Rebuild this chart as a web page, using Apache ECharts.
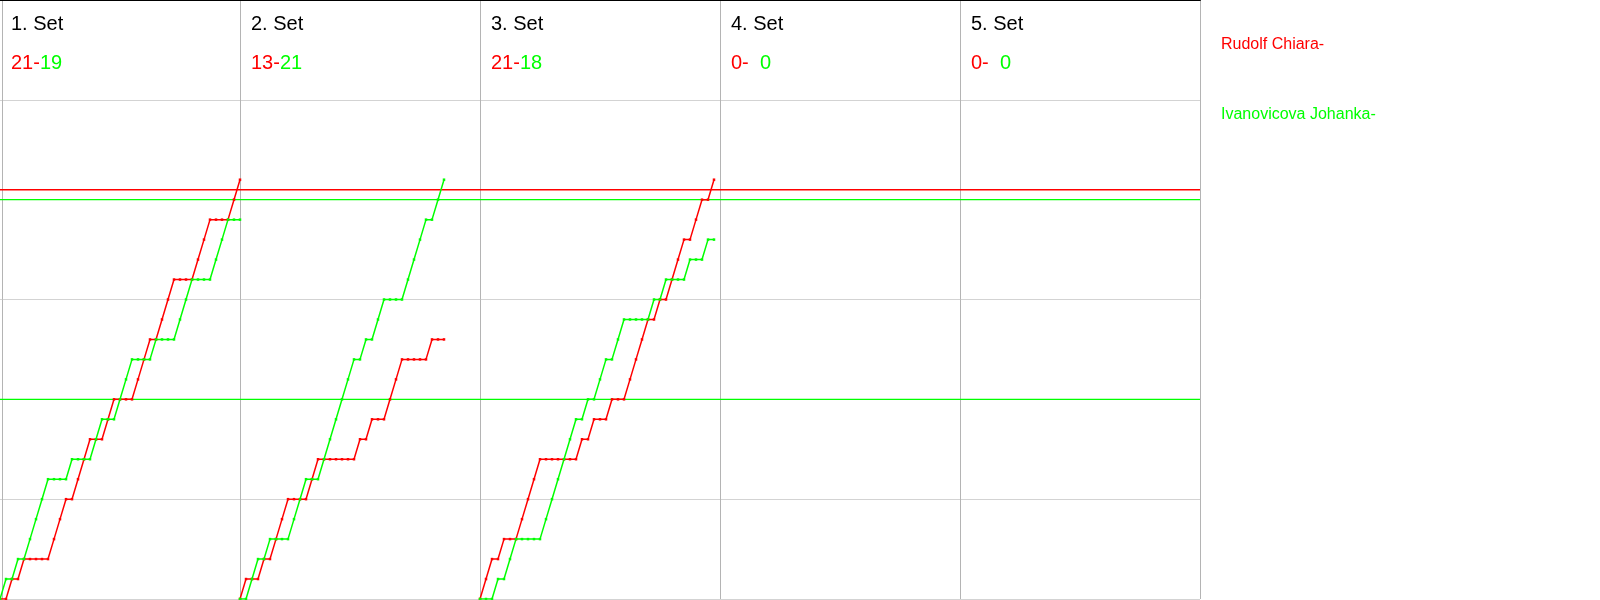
<!DOCTYPE html>
<html><head><meta charset="utf-8">
<script src="https://cdn.jsdelivr.net/npm/echarts@6/dist/echarts.min.js"></script>
<style>html,body{margin:0;padding:0;background:#fff}#c{width:1600px;height:600px}</style>
</head><body><div id="c"></div>
<script>
// ---- data ----
const setLabels = ['1. Set', '2. Set', '3. Set', '4. Set', '5. Set'];
const redScores = [21, 13, 21, 0, 0];
const greenScores = [19, 21, 18, 0, 0];
const playerRed = 'Rudolf Chiara-';
const playerGreen = 'Ivanovicova Johanka-';
const slotPerSet = 40;           // x-axis units reserved for each set (rallies)
const xMax = 200;
const yMax = 30;
// running score after each rally (index = rally number, 0 = start)
const red1   = [0,0,1,1,2,2,2,2,2,3,4,5,5,6,7,8,8,8,9,10,10,10,10,11,12,13,13,14,15,16,16,16,16,17,18,19,19,19,19,20,21];
const green1 = [0,1,1,2,2,3,4,5,6,6,6,6,7,7,7,7,8,9,9,9,10,11,12,12,12,12,13,13,13,13,14,15,16,16,16,16,17,18,19,19,19];
const red2   = [0,1,1,1,2,2,3,4,5,5,5,5,6,7,7,7,7,7,7,7,8,8,9,9,9,10,11,12,12,12,12,12,13,13,13];
const green2 = [0,0,1,2,2,3,3,3,3,4,5,6,6,6,7,8,9,10,11,12,12,13,13,14,15,15,15,15,16,17,18,19,19,20,21];
const red3   = [0,1,2,2,3,3,3,4,5,6,7,7,7,7,7,7,7,8,8,9,9,9,10,10,10,11,12,13,14,14,15,15,16,17,18,18,19,20,20,21];
const green3 = [0,0,0,1,1,2,3,3,3,3,3,4,5,6,7,8,9,9,10,10,11,12,12,13,14,14,14,14,14,15,15,16,16,16,16,17,17,17,18,18];
const redSets = [red1, red2, red3];
const greenSets = [green1, green2, green3];
const greenRefLines = [10, 20];
const redRefLines = [20.5];

// ---- style ----
const RED = '#ff0000', GREEN = '#00ff00';
const FONT = '"Liberation Sans", Arial, sans-serif';

const chart = echarts.init(document.getElementById('c'));

function lineSeries(arr, setIdx, color) {
  return {
    type: 'line',
    data: arr.map((v, k) => [setIdx * slotPerSet + k, v]),
    symbol: 'rect',
    symbolSize: 2.5,
    showAllSymbol: true,
    lineStyle: { color: color, width: 1.5 },
    itemStyle: { color: color },
    emphasis: { disabled: true },
    silent: true,
    animation: false,
    z: 3
  };
}
function refSeries(v, color) {
  return {
    type: 'line',
    data: [[0, v], [xMax, v]],
    symbol: 'none',
    lineStyle: { color: color, width: 1.4 },
    itemStyle: { color: color },
    emphasis: { disabled: true },
    silent: true,
    animation: false,
    z: 2
  };
}

const series = [];
redRefLines.forEach(v => series.push(refSeries(v, RED)));
greenRefLines.forEach(v => series.push(refSeries(v, GREEN)));
redSets.forEach((arr, i) => series.push(lineSeries(arr, i, RED)));
greenSets.forEach((arr, i) => series.push(lineSeries(arr, i, GREEN)));

const graphic = [];
setLabels.forEach((lab, i) => {
  graphic.push({
    type: 'text', x: 11 + i * 240, y: 24, silent: true,
    style: { text: lab, fill: '#000', font: '20px ' + FONT, verticalAlign: 'middle' }
  });
  const g = greenScores[i] < 10 ? '  ' + greenScores[i] : String(greenScores[i]);
  graphic.push({
    type: 'text', x: 11 + i * 240, y: 63.5, silent: true,
    style: {
      text: '{r|' + redScores[i] + '-}{g|' + g + '}',
      font: '20px ' + FONT, verticalAlign: 'middle',
      rich: {
        r: { fill: RED, font: '20px ' + FONT },
        g: { fill: GREEN, font: '20px ' + FONT }
      }
    }
  });
});
graphic.push({ type: 'text', x: 1221, y: 45, silent: true,
  style: { text: playerRed, fill: RED, font: '16px ' + FONT, verticalAlign: 'middle' } });
graphic.push({ type: 'text', x: 1221, y: 115, silent: true,
  style: { text: playerGreen, fill: GREEN, font: '16px ' + FONT, verticalAlign: 'middle' } });

chart.setOption({
  animation: false,
  backgroundColor: '#fff',
  grid: { left: 0, top: 0, width: 1200, bottom: 1, containLabel: false },
  xAxis: {
    type: 'value', position: 'top', min: 0, max: xMax, interval: slotPerSet,
    axisLine: { show: true, onZero: false, lineStyle: { color: '#000', width: 2 } },
    axisTick: { show: false }, axisLabel: { show: false },
    splitLine: { show: true, showMinLine: false, lineStyle: { color: '#b4b4b4', width: 1 } }
  },
  yAxis: {
    type: 'value', min: 0, max: yMax, interval: 5, offset: -2,
    axisLine: { show: true, onZero: false, lineStyle: { color: '#b4b4b4', width: 1 } },
    axisTick: { show: false }, axisLabel: { show: false },
    splitLine: { show: true, lineStyle: { color: '#d3d3d3', width: 1 } }
  },
  series: series,
  graphic: graphic
});
</script>
</body></html>
